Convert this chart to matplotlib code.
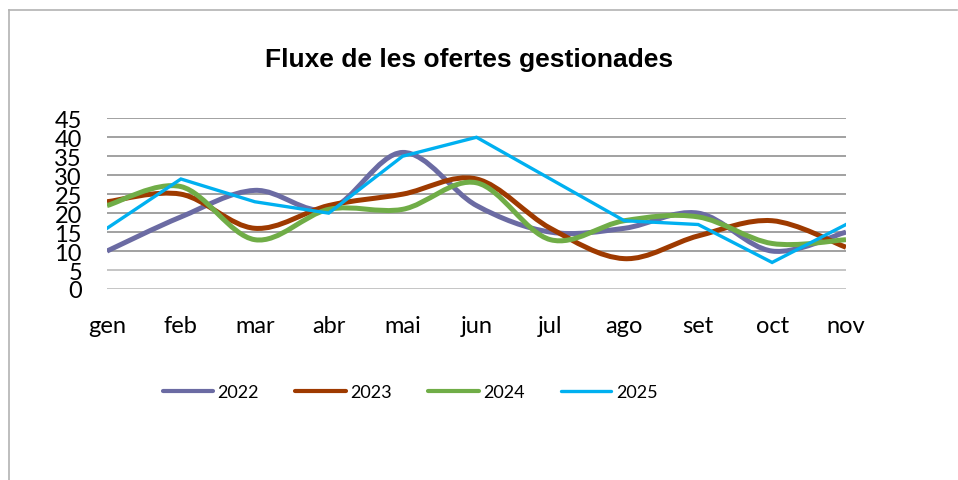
import numpy as np
import matplotlib
matplotlib.use("Agg")
import matplotlib.pyplot as plt
from matplotlib.path import Path
from matplotlib.patches import PathPatch
from matplotlib.lines import Line2D

months = ["gen", "feb", "mar", "abr", "mai", "jun", "jul", "ago", "set", "oct", "nov"]
y2022 = [10, 19, 26, 21, 36, 22, 15, 16, 20, 10, 15]
y2023 = [23, 25, 16, 22, 25, 29, 16, 8, 14, 18, 11]
y2024 = [22, 27, 13, 21, 21, 28, 13, 18, 19, 12, 13]
y2025 = [16, 29, 23, 20, 35, 40, 29, 18, 17, 7, 17]
yticks = [0, 5, 10, 15, 20, 25, 30, 35, 40, 45]

series = [
    ("2022", y2022, "#6B6BA3", 3.6, True),
    ("2023", y2023, "#9E3A00", 3.6, True),
    ("2024", y2024, "#70AD47", 3.6, True),
    ("2025", y2025, "#00B0F0", 2.4, False),
]


def smooth_path(xs, ys):
    # catmull-rom style bezier like excel's smoothed line
    p = np.column_stack([xs, ys]).astype(float)
    n = len(p)
    verts = [p[0]]
    codes = [Path.MOVETO]
    for i in range(n - 1):
        p0 = p[i - 1] if i > 0 else p[i]
        p3 = p[i + 2] if i + 2 < n else p[i + 1]
        c1 = p[i] + (p[i + 1] - p0) / 6.0
        c2 = p[i + 1] - (p3 - p[i]) / 6.0
        verts += [c1, c2, p[i + 1]]
        codes += [Path.CURVE4] * 3
    return Path(verts, codes)


W, H = 958, 481
fig = plt.figure(figsize=(W / 100, H / 100), dpi=100)
ax = fig.add_axes([107 / W, (H - 290) / H, (846 - 107) / W, (290 - 119.3) / H])

x = np.arange(len(months))
for name, vals, col, lw, smooth in series:
    if smooth:
        patch = PathPatch(smooth_path(x, vals), facecolor="none", edgecolor=col,
                          lw=lw, capstyle="butt", joinstyle="round", zorder=3)
        ax.add_patch(patch)
    else:
        ax.plot(x, vals, color=col, lw=lw, solid_joinstyle="miter", zorder=4)

ax.set_xlim(0, len(months) - 1)
ax.set_ylim(0, 45)
ax.set_yticks(yticks)
ax.set_xticks(x)
ax.set_xticklabels(months)
for t in yticks:
    gc = "#B5B5B5" if t <= 5 else "#878787"
    ax.axhline(t, color=gc, lw=1.1, zorder=1)

for s in ax.spines.values():
    s.set_visible(False)
ax.tick_params(axis="both", length=0, labelsize=17)
ax.tick_params(axis="y", pad=18)
ax.tick_params(axis="x", pad=19)
for lab in ax.get_xticklabels() + ax.get_yticklabels():
    lab.set_fontfamily("Lato")
    lab.set_color("#000000")

fig.text(469 / W, (H - 67) / H, "Fluxe de les ofertes gestionades",
         ha="center", va="baseline", fontsize=19, fontweight="bold",
         family="Liberation Sans")

handles = [Line2D([], [], color=c, lw=3.0 if s else 2.4, solid_capstyle="round")
           for _, _, c, _, s in series]
leg = fig.legend(handles, [s[0] for s in series], loc="center",
                 bbox_to_anchor=(410 / W, (H - 393) / H), ncol=4, frameon=False,
                 prop={"family": "Lato", "size": 13}, handlelength=2.8,
                 handletextpad=0.25, columnspacing=2.0)

# chart area border (left and top visible)
fig.add_artist(Line2D([8.5 / W, 8.5 / W], [0, (H - 11) / H], color="#B3B3B3", lw=1.2))
fig.add_artist(Line2D([8.5 / W, 957 / W], [(H - 11) / H, (H - 11) / H], color="#B3B3B3", lw=1.2))

fig.savefig("out.png", dpi=100)
